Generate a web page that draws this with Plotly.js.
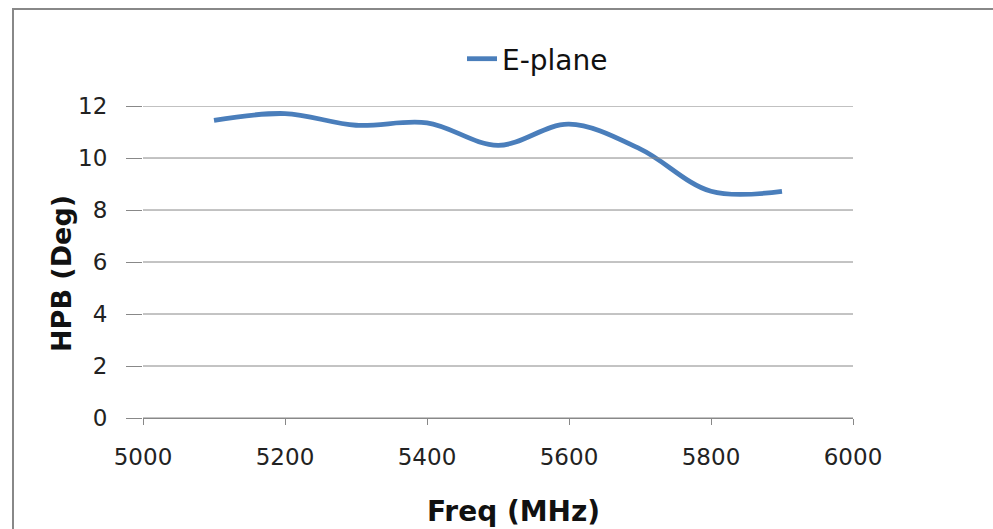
<!DOCTYPE html>
<html>
<head>
<meta charset="utf-8">
<script src="https://cdn.plot.ly/plotly-3.0.1.min.js"></script>
<style>
html,body{margin:0;padding:0;background:#fff;}
#wrap{position:relative;width:993px;height:529px;}
#chart{width:993px;height:529px;}
#frame{position:absolute;left:12px;top:8px;width:990px;height:530px;border:2px solid #888;box-sizing:border-box;pointer-events:none;}
</style>
</head>
<body>
<div id="wrap"><div id="chart"></div><div id="frame"></div></div>
<script>
var freq = [5100, 5200, 5300, 5400, 5500, 5600, 5700, 5800, 5900];
var hpbEPlane = [11.45, 11.71, 11.26, 11.35, 10.49, 11.3, 10.35, 8.72, 8.72];
var seriesName = 'E-plane';
var xTicks = [5000, 5200, 5400, 5600, 5800, 6000];
var yTicks = [0, 2, 4, 6, 8, 10, 12];

var font = 'DejaVu Sans, Arial, sans-serif';
var trace = {
  x: freq, y: hpbEPlane, name: seriesName, type: 'scatter', mode: 'lines', fill: 'none',
  line: {color: '#4A7EBB', width: 4.8, shape: 'spline', smoothing: 1}
};
var gridShapes = yTicks.map(function (v) {
  return {type: 'line', xref: 'paper', yref: 'y', x0: 0, x1: 1, y0: v, y1: v,
          layer: 'above', line: {color: '#888', width: 1}};
});
var T = 106, B = 418;
var layout = {
  width: 993, height: 529,
  margin: {l: 143, r: 140, t: T, b: 529 - B},
  paper_bgcolor: '#fff', plot_bgcolor: '#fff',
  showlegend: true,
  legend: {x: (462-143)/710, y: (B-59)/(B-T), xanchor: 'left', yanchor: 'middle', orientation: 'h',
           font: {family: font, size: 28, color: '#111'}, bgcolor: 'rgba(0,0,0,0)'},
  xaxis: {range: [5000, 6000], tickvals: xTicks, ticktext: xTicks.map(String),
          showgrid: false, zeroline: false, showline: true, linecolor: '#888', linewidth: 1,
          ticks: 'outside', ticklen: 6, tickcolor: '#888', ticklabelstandoff: 12,
          tickfont: {family: font, size: 23, color: '#222'}},
  yaxis: {range: [0, 12.001], tickvals: yTicks, ticktext: yTicks.map(String),
          showgrid: false, zeroline: false, showline: false,
          ticks: 'outside', ticklen: 16, tickcolor: '#888', ticklabelstandoff: 14,
          tickfont: {family: font, size: 23, color: '#222'}},
  shapes: gridShapes,
  annotations: [
    {text: '<b>Freq (MHz)</b>', xref: 'paper', yref: 'paper', x: (513-143)/710, y: (B-511)/(B-T),
     showarrow: false, xanchor: 'center', yanchor: 'middle', font: {family: font, size: 28, color: '#111'}},
    {text: '<b>HPB (Deg)</b>', xref: 'paper', yref: 'paper', x: (61-143)/710, y: (B-274)/(B-T),
     showarrow: false, xanchor: 'center', yanchor: 'middle', textangle: -90, font: {family: font, size: 27, color: '#111'}}
  ]
};
Plotly.newPlot('chart', [trace], layout, {displayModeBar: false, staticPlot: true});
</script>
</body>
</html>
